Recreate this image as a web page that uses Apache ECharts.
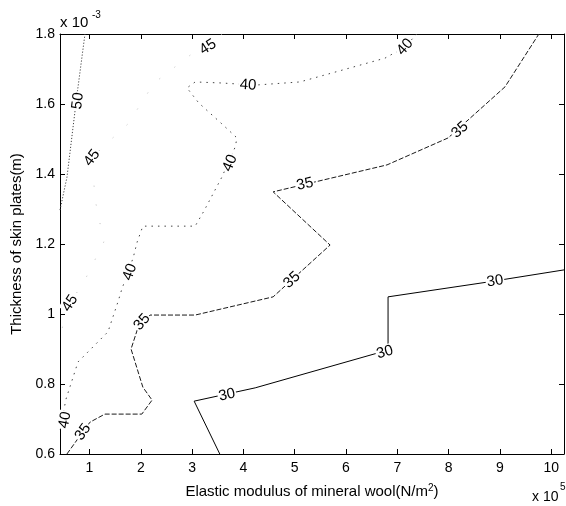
<!DOCTYPE html>
<html>
<head>
<meta charset="utf-8">
<script src="https://cdn.jsdelivr.net/npm/echarts@6/dist/echarts.min.js"></script>
<style>
  html, body { margin: 0; padding: 0; background: #fff; }
  #chart { width: 566px; height: 506px; }
</style>
</head>
<body>
<div id="chart"></div>
<script>
// Axis ranges: x in units of 1e5 N/m^2, y in units of 1e-3 m
const xRange = [0.425, 10.25];
const yRange = [0.6, 1.8];
const xTicks = [1, 2, 3, 4, 5, 6, 7, 8, 9, 10];
const yTicks = [0.6, 0.8, 1.0, 1.2, 1.4, 1.6, 1.8];
const yTickLabels = ['0.6', '0.8', '1', '1.2', '1.4', '1.6', '1.8'];

// Contour levels
const levels = [30, 35, 40, 45, 50];

// Contour polylines, points are [elastic modulus, plate thickness]
const contour30 = [[3.54, 0.6], [3.04, 0.751], [4.23, 0.789], [6.82, 0.897], [6.82, 1.049],
  [8.75, 1.091], [10.25, 1.126]];
const contour35 = [[0.56, 0.6], [0.756, 0.64], [1.01, 0.691], [1.30, 0.714], [2.02, 0.714],
  [2.22, 0.754], [2.04, 0.791], [1.81, 0.9], [1.93, 0.954], [2.18, 0.997], [3.06, 0.997],
  [4.58, 1.049], [5.69, 1.197], [4.58, 1.349], [6.80, 1.426], [7.99, 1.503], [9.10, 1.649],
  [9.76, 1.8]];
const contour40 = [[7.38, 1.8], [7.15, 1.763], [6.76, 1.731], [5.10, 1.663], [4.23, 1.654],
  [3.58, 1.66], [3.06, 1.663], [2.90, 1.646], [3.13, 1.603], [3.56, 1.546], [3.875, 1.503],
  [3.84, 1.477], [3.58, 1.391], [3.23, 1.294], [3.06, 1.251], [2.04, 1.251], [1.93, 1.206],
  [1.85, 1.16], [1.63, 1.071], [1.56, 1.037], [1.36, 0.949], [0.776, 0.863], [0.542, 0.757],
  [0.425, 0.669]];
const contour45 = [[3.58, 1.8], [3.02, 1.746], [2.26, 1.66], [1.75, 1.543], [1.20, 1.469],
  [1.05, 1.44], [1.11, 1.326], [1.28, 1.206], [0.91, 1.097], [0.62, 1.031], [0.425, 0.94]];
const contour50 = [[0.425, 1.297], [0.561, 1.391], [0.756, 1.626], [0.912, 1.8]];

// Where each level is labelled along its contour
const labels30 = [[3.68, 0.769], [6.76, 0.891], [8.905, 1.094]];
const labels35 = [[0.873, 0.663], [2.023, 0.977], [4.947, 1.097], [5.20, 1.371], [8.222, 1.526]];
const labels40 = [[7.15, 1.763], [4.09, 1.654], [3.739, 1.431], [1.789, 1.12], [0.522, 0.697]];
const labels45 = [[3.31, 1.763], [1.049, 1.446], [0.62, 1.031]];
const labels50 = [[0.776, 1.609]];

const contours = [contour30, contour35, contour40, contour45, contour50];
const labelSets = [labels30, labels35, labels40, labels45, labels50];

const FONT = 'Liberation Sans, Arial, Helvetica, sans-serif';
const lineStyles = [
  { color: '#000', width: 1, type: 'solid' },
  { color: '#1a1a1a', width: 1, type: [5, 2] },
  { color: '#444', width: 1, type: [1.5, 5] },
  { color: '#bbb', width: 1, type: [1, 18] },
  { color: '#444', width: 1, type: [1.2, 1.8] }
];

const chart = echarts.init(document.getElementById('chart'), null, { renderer: 'canvas' });

function buildOption(angles) {
  const lineSeries = levels.map((lv, i) => ({
    name: 'c' + lv,
    type: 'line',
    data: contours[i],
    showSymbol: false,
    symbol: 'none',
    silent: true,
    animation: false,
    lineStyle: lineStyles[i],
    z: 2
  }));
  const labelData = [];
  levels.forEach((lv, i) => {
    labelSets[i].forEach((p, j) => {
      labelData.push({
        value: [p[0], p[1], lv],
        label: { rotate: angles ? angles[i][j] : 0 }
      });
    });
  });
  const labelSeries = {
    type: 'scatter',
    data: labelData,
    symbolSize: 0,
    silent: true,
    animation: false,
    z: 10,
    itemStyle: { color: '#000', opacity: 0 },
    label: {
      show: true,
      position: 'inside',
      formatter: p => String(p.value[2]),
      fontFamily: FONT,
      fontSize: 15,
      color: '#000',
      opacity: 1,
      textBorderWidth: 0,
      textBorderColor: 'transparent',
      backgroundColor: '#fff',
      padding: [0, 1, 0, 1]
    }
  };
  const tickCommon = { inside: true, length: 5, lineStyle: { color: '#000', width: 1 } };
  return {
    animation: false,
    backgroundColor: '#fff',
    grid: { left: 60, right: 2, top: 34, bottom: 52, containLabel: false },
    xAxis: [
      {
        type: 'value', min: xRange[0], max: xRange[1], position: 'bottom',
        axisLine: { show: true, onZero: false, lineStyle: { color: '#000', width: 1 } },
        axisTick: Object.assign({ customValues: xTicks }, tickCommon),
        axisLabel: { customValues: xTicks, color: '#000', fontFamily: FONT, fontSize: 14, margin: 7 },
        splitLine: { show: false },
        name: 'Elastic modulus of mineral wool(N/m{sup|2})',
        nameLocation: 'middle', nameGap: 29,
        nameTextStyle: {
          color: '#000', fontFamily: FONT, fontSize: 15,
          rich: { sup: { fontSize: 10, fontFamily: FONT, color: '#000', verticalAlign: 'top', padding: [0, 0, 8, 0] } }
        }
      },
      {
        type: 'value', min: xRange[0], max: xRange[1], position: 'top',
        axisLine: { show: true, onZero: false, lineStyle: { color: '#000', width: 1 } },
        axisTick: Object.assign({ customValues: xTicks }, tickCommon),
        axisLabel: { show: false },
        splitLine: { show: false }
      }
    ],
    yAxis: [
      {
        type: 'value', min: yRange[0], max: yRange[1], position: 'left',
        axisLine: { show: true, onZero: false, lineStyle: { color: '#000', width: 1 } },
        axisTick: Object.assign({ customValues: yTicks }, tickCommon),
        axisLabel: {
          customValues: yTicks, color: '#000', fontFamily: FONT, fontSize: 14, margin: 5,
          formatter: v => yTickLabels[yTicks.findIndex(t => Math.abs(t - v) < 1e-9)]
        },
        splitLine: { show: false },
        name: 'Thickness of skin plates(m)',
        nameLocation: 'middle', nameGap: 35, nameRotate: 90,
        nameTextStyle: { color: '#000', fontFamily: FONT, fontSize: 15 }
      },
      {
        type: 'value', min: yRange[0], max: yRange[1], position: 'right',
        axisLine: { show: true, onZero: false, lineStyle: { color: '#000', width: 1 } },
        axisTick: Object.assign({ customValues: yTicks }, tickCommon),
        axisLabel: { show: false },
        splitLine: { show: false }
      }
    ],
    graphic: [
      { type: 'text', x: 60, y: 23, style: { text: 'x 10', fontFamily: FONT, fontSize: 15, fill: '#000', verticalAlign: 'middle', align: 'left' } },
      { type: 'text', x: 92, y: 15, style: { text: '-3', fontFamily: FONT, fontSize: 10, fill: '#000', verticalAlign: 'middle', align: 'left' } },
      { type: 'text', x: 532, y: 497, style: { text: 'x 10', fontFamily: FONT, fontSize: 14, fill: '#000', verticalAlign: 'middle', align: 'left' } },
      { type: 'text', x: 560, y: 487, style: { text: '5', fontFamily: FONT, fontSize: 10, fill: '#000', verticalAlign: 'middle', align: 'left' } }
    ],
    series: lineSeries.concat([labelSeries])
  };
}

chart.setOption(buildOption(null));

// Orient each label along the contour segment nearest to it, kept upright
function labelAngle(line, pt) {
  const px = line.map(p => chart.convertToPixel({ seriesIndex: 0 }, p));
  const q = chart.convertToPixel({ seriesIndex: 0 }, pt);
  let best = Infinity, ang = 0;
  for (let i = 0; i < px.length - 1; i++) {
    const a = px[i], b = px[i + 1];
    const dx = b[0] - a[0], dy = b[1] - a[1];
    const L = dx * dx + dy * dy;
    let t = L ? ((q[0] - a[0]) * dx + (q[1] - a[1]) * dy) / L : 0;
    t = Math.max(0, Math.min(1, t));
    const d = Math.hypot(q[0] - (a[0] + t * dx), q[1] - (a[1] + t * dy));
    if (d < best) { best = d; ang = Math.atan2(-dy, dx) * 180 / Math.PI; }
  }
  if (ang > 90) ang -= 180;
  if (ang <= -90) ang += 180;
  return ang;
}

const angles = labelSets.map((set, i) => set.map(p => labelAngle(contours[i], p)));
chart.setOption(buildOption(angles), true);
</script>
</body>
</html>
